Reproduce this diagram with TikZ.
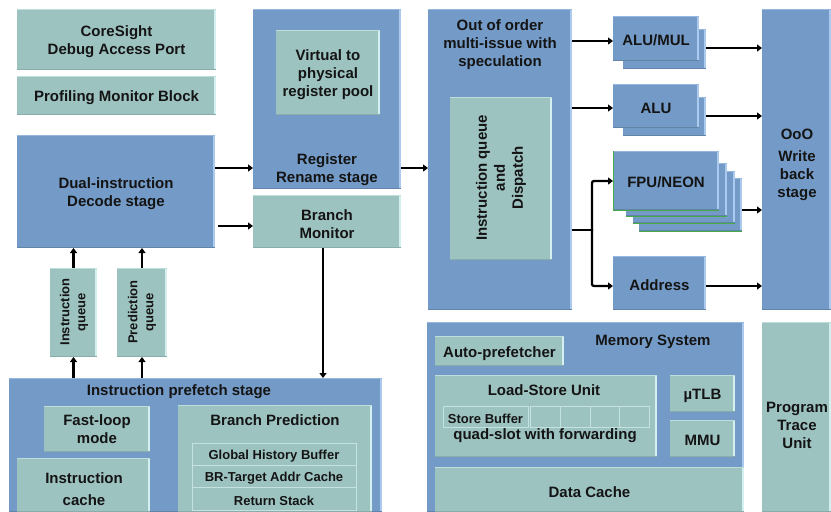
\documentclass[tikz,border=0pt]{standalone}
\usepackage{fontspec}
\setmainfont{Liberation Sans}
\usetikzlibrary{arrows.meta,calc}
\definecolor{bblue}{RGB}{116,155,199}
\definecolor{tteal}{RGB}{157,195,193}
\definecolor{bluehi}{RGB}{172,202,238}
\definecolor{tealhi}{RGB}{212,240,238}
\definecolor{fgreen}{RGB}{70,170,70}
\definecolor{txt}{RGB}{20,20,20}
% block without text: style, name, x1, y1, x2, y2
\newcommand\blk[6]{\node[#1, minimum width={(#5-#3)*1pt}, minimum height={(#6-#4)*1pt}] (#2) at ({(#3+#5)/2},{(#4+#6)/2}) {};}
% block with centred text: style, name, x1, y1, x2, y2, text
\newcommand\blkt[7]{\blk{#1}{#2}{#3}{#4}{#5}{#6}\node[btxt, #1text] (#2-t) at ([yshift=-2.2pt]#2.center) {#7};}
\begin{document}
\begin{tikzpicture}[x=1pt,y=-1pt,
  font=\fontsize{15}{18}\selectfont\bfseries,
  base/.style={inner sep=0pt, outer sep=0pt, align=center, text=txt},
  btxt/.style={base},
  bluebox/.style={base, fill=bblue,
    path picture={\fill[bluehi] ([xshift=-2.5pt]path picture bounding box.north east) rectangle (path picture bounding box.south east);
      \fill[bluehi!60!bblue] (path picture bounding box.north west) rectangle ([yshift=-1.2pt]path picture bounding box.north east);
      \fill[bblue!85!black] (path picture bounding box.south west) rectangle ([yshift=1pt]path picture bounding box.south east);}},
  tealbox/.style={base, fill=tteal,
    path picture={\fill[tealhi] ([xshift=-2.5pt]path picture bounding box.north east) rectangle (path picture bounding box.south east);
      \fill[tealhi!60!tteal] (path picture bounding box.north west) rectangle ([yshift=-1.2pt]path picture bounding box.north east);
      \fill[tteal!88!black] (path picture bounding box.south west) rectangle ([yshift=1pt]path picture bounding box.south east);}},
  rowbox/.style={base, fill=tteal, draw=tealhi!70!tteal, line width=0.8pt},
  blueboxtext/.style={}, tealboxtext/.style={},
  rowboxtext/.style={font=\fontsize{13}{15}\selectfont\bfseries},
  label/.style={base},
  small/.style={base, font=\fontsize{13}{16}\selectfont\bfseries},
  arr/.style={line width=2.3pt, rounded corners=2pt, -{Triangle[length=5pt,width=7pt]}},
  plain/.style={line width=2.3pt},
  grn/.style={fgreen, line width=1pt}
]
\useasboundingbox (0,0) rectangle (831,512);
\fill[white] (0,0) rectangle (831,512);

% ---- left column
\blkt{tealbox}{cs}{17}{9}{216}{70}{CoreSight\\Debug Access Port}
\blkt{tealbox}{pm}{17}{76}{216}{115}{Profiling Monitor Block}
\blkt{bluebox}{dec}{17}{135}{215}{248}{Dual-instruction\\Decode stage}

% ---- rename
\blk{bluebox}{rr}{253}{9}{401}{189}
\blkt{tealbox}{vp}{276}{30}{380}{115}{Virtual to\\physical\\register pool}
\node[label] (rrt) at (327,170) {Register\\Rename stage};
\blkt{tealbox}{bm}{253}{195}{401}{248}{Branch\\Monitor}

% ---- out of order
\blk{bluebox}{ooo}{428}{9}{572}{310}
\node[label] (ooot) at (500,45) {Out of order\\multi-issue with\\speculation};
\blk{tealbox}{iqd}{450}{97}{552}{260}
\node[label, rotate=90] (iqdt) at (501,178) {Instruction queue\\and\\Dispatch};

% ---- execution units
\blk{bluebox}{alumulb}{623}{29}{706}{69}
\blkt{bluebox}{alumul}{613}{16}{699}{61}{ALU/MUL}
\blk{bluebox}{alub}{623}{97}{706}{136}
\blkt{bluebox}{alu}{613}{84}{699}{128}{ALU}
\blk{bluebox}{fpu3}{639}{178}{742}{231}
\draw[grn] (fpu3.south west) -- (fpu3.south east);
\blk{bluebox}{fpu2}{633}{171}{735}{223}
\draw[grn] (fpu2.south west) -- (fpu2.south east);
\blk{bluebox}{fpu1}{626}{163}{727}{216}
\draw[grn] (fpu1.south west) -- (fpu1.south east);
\blkt{bluebox}{fpu}{613}{151}{719}{210}{FPU/NEON}
\draw[grn] (fpu.north west) -- (fpu.south west) -- (fpu.south east);
\blkt{bluebox}{addr}{613}{256}{706}{310}{Address}
\blk{bluebox}{wb}{762}{9}{831}{310}
\node[label] (wbt) at (797,165) {OoO\\[4pt]Write\\back\\stage};

% ---- queues
\blk{tealbox}{iq}{50}{268}{97}{357}
\node[small, rotate=90] (iqt) at (74,312) {Instruction\\queue};
\blk{tealbox}{pq}{117}{268}{167}{357}
\node[small, rotate=90] (pqt) at (142,312) {Prediction\\queue};

% ---- prefetch
\blk{bluebox}{pf}{9}{378}{382}{512}
\node[label] (pft) at (179,392) {Instruction prefetch stage};
\blk{tealbox}{fl}{44}{406}{150}{452}
\node[label] (flt) at (97,429) {Fast-loop\\mode};
\blk{tealbox}{ic}{17}{458}{150}{512}
\node[base, font=\fontsize{15}{22}\selectfont\bfseries] (ict) at (84,489) {Instruction\\cache};
\blk{tealbox}{bp}{178}{405}{372}{512}
\node[label] (bpt) at (275,420) {Branch Prediction};
\blkt{rowbox}{ghb}{192}{443}{356}{465}{Global History Buffer}
\blkt{rowbox}{brt}{192}{465}{356}{487}{BR-Target Addr Cache}
\blkt{rowbox}{rs}{192}{487}{356}{510}{Return Stack}

% ---- memory system
\blk{bluebox}{ms}{427}{322}{744}{512}
\node[label] (mst) at (653,342) {Memory System};
\blkt{tealbox}{ap}{435}{336}{564}{366}{Auto-prefetcher}
\blk{tealbox}{lsu}{435}{375}{657}{457}
\node[label] (lsut) at (544,390) {Load-Store Unit};
\blkt{rowbox}{sb}{443}{406}{528}{427}{Store Buffer}
\blk{rowbox}{sc1}{530}{406}{560}{427}
\blk{rowbox}{sc2}{560}{406}{590}{427}
\blk{rowbox}{sc3}{590}{406}{619}{427}
\blk{rowbox}{sc4}{619}{406}{649}{427}
\node[label] (qst) at (545,436) {quad-slot with forwarding};
\blkt{tealbox}{tlb}{670}{375}{735}{412}{µTLB}
\blkt{tealbox}{mmu}{670}{420}{735}{457}{MMU}
\blkt{tealbox}{dc}{435}{467}{744}{512}{Data Cache}
\blk{tealbox}{ptu}{762}{322}{831}{512}
\node[label] (ptut) at (797,425) {Program\\Trace\\Unit};

% ---- connectors
\draw[arr] (dec.east |- 0,168) -- (rr.west |- 0,168);
\draw[arr] ([xshift=3pt]dec.east |- 0,226) -- (bm.west |- 0,226);
\draw[arr] (rr.east |- 0,168) -- (ooo.west |- 0,168);
\draw[arr] (bm.south -| 323,0) -- (pf.north -| 323,0);
\draw[arr] (iq.north) -- (dec.south -| iq.north);
\draw[arr] (pq.north) -- (dec.south -| pq.north);
\draw[arr] (pf.north -| iq.south) -- (iq.south);
\draw[arr] (pf.north -| pq.south) -- (pq.south);

\draw[arr] (ooo.east |- 0,41) -- (alumul.west |- 0,41);
\draw[arr] (ooo.east |- 0,108) -- (alu.west |- 0,108);
\coordinate (fork) at (592,230);
\draw[plain] (ooo.east |- fork) -- ([xshift=1.15pt]fork);
\draw[arr] ([yshift=-1.15pt]fork) |- (fpu.west |- 0,181);
\draw[arr] ([yshift=1.15pt]fork) |- (addr.west |- 0,286);

\draw[arr] (alumulb.east |- 0,48) -- (wb.west |- 0,48);
\draw[arr] (alub.east |- 0,116) -- (wb.west |- 0,116);
\draw[arr] (fpu3.east |- 0,210) -- (wb.west |- 0,210);
\draw[arr] (addr.east |- 0,286) -- (wb.west |- 0,286);
\end{tikzpicture}
\end{document}
